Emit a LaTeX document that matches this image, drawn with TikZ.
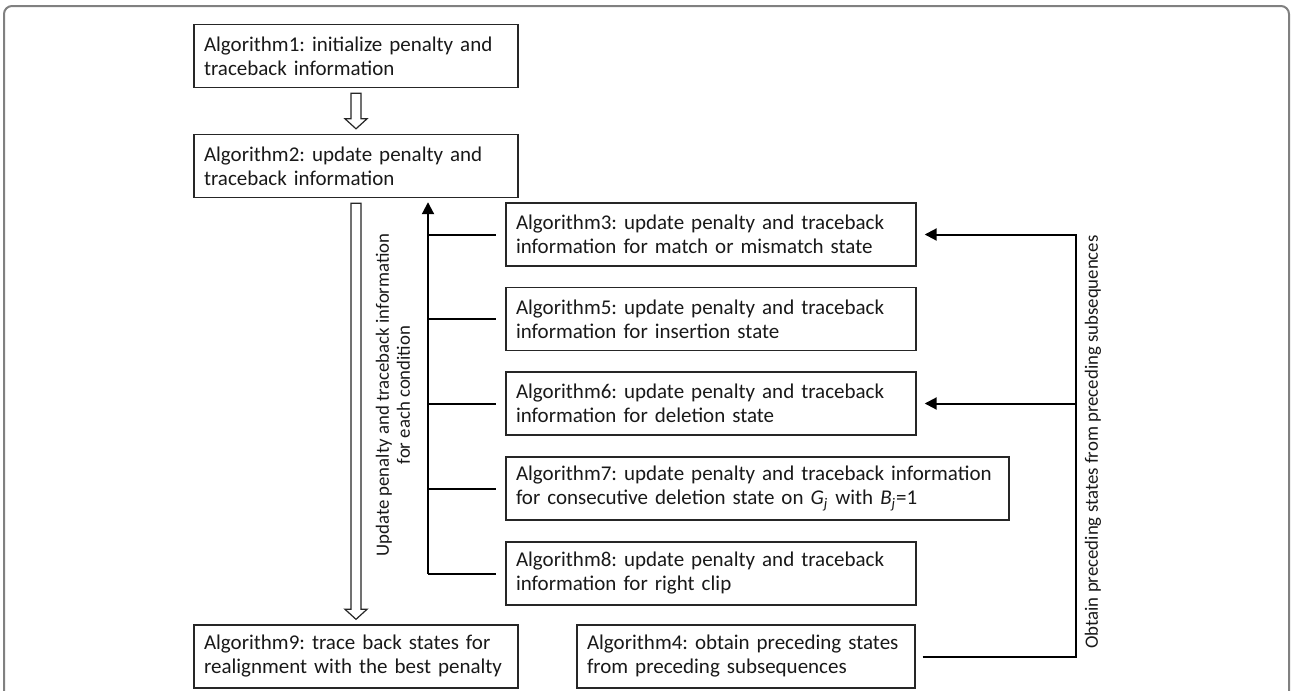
\documentclass[tikz,border=0pt]{standalone}
\usepackage{fontspec}
\setmainfont{Carlito}
\usetikzlibrary{arrows.meta,calc}
\frenchspacing

\tikzset{
  algbox/.style={draw=black!85, line width=0.7pt, rectangle, align=left, inner xsep=5pt,
    minimum height=31.5pt, font=\fontsize{10.5}{12}\selectfont, text=black!90},
  link/.style={draw=black, line width=1pt},
  tip/.style={-{Triangle[length=6pt,width=6pt]}},
  hollow/.style={draw=black!85, line width=0.6pt, fill=white},
  sidelabel/.style={rotate=90, align=center, font=\fontsize{9.4}{10.5}\selectfont, text=black!90},
}

% outline arrow between two stacked boxes
\newcommand{\hollowarrow}[2]{%
  \draw[hollow] ($(#1.south)+(-5,5)$) -- ($(#2.north)+(-5,-15)$) -- ($(#2.north)+(-11,-15)$)
    -- ($(#2.north)+(0,-5)$) -- ($(#2.north)+(11,-15)$) -- ($(#2.north)+(5,-15)$)
    -- ($(#1.south)+(5,5)$) -- cycle;}

\begin{document}
\begin{tikzpicture}[x=0.5pt,y=-0.5pt]
\useasboundingbox (0,0) rectangle (1291,691);
\clip (0,0) rectangle (1291,691);
\draw[black!50, line width=1pt, rounded corners=4pt] (4,6) rectangle (1289,720);

% left column
\node[algbox, text width=152pt] (alg1) at (356,56) {Algorithm1: initialize penalty and\\traceback information};
\node[algbox, text width=152pt] (alg2) at (356,166) {Algorithm2: update penalty and\\traceback information};
\node[algbox, text width=152pt] (alg9) at (356,656.5) {Algorithm9: trace back states for\\realignment with the best penalty};

% conditions
\node[algbox, text width=195pt] (alg3) at (711,234.5) {Algorithm3: update penalty and traceback\\information for match or mismatch state};
\node[algbox, text width=195pt] (alg5) at (711,319) {Algorithm5: update penalty and traceback\\information for insertion state};
\node[algbox, text width=195pt] (alg6) at (711,403.5) {Algorithm6: update penalty and traceback\\information for deletion state};
\node[algbox, text width=241.5pt] (alg7) at (757.5,488.5) {Algorithm7: update penalty and traceback information\\for consecutive deletion state on \textit{G\textsubscript{j}} with \textit{B\textsubscript{j}}=1};
\node[algbox, text width=195pt] (alg8) at (711,573.5) {Algorithm8: update penalty and traceback\\information for right clip};
\node[algbox, text width=159pt] (alg4) at (746,656.5) {Algorithm4: obtain preceding states\\from preceding subsequences};

\hollowarrow{alg1}{alg2}
\hollowarrow{alg2}{alg9}

% bus back to algorithm 2
\coordinate (trunk) at (428,0);
\draw[link, tip, shorten >=2pt] (trunk |- alg8.west) -- (trunk |- alg2.south);
\foreach \n in {alg3,alg5,alg6,alg7,alg8}
  \draw[link, shorten >=4.5pt] (trunk |- \n.west) -- (\n.west);

% preceding states
\coordinate (rail) at (1076,0);
\draw[link, tip, shorten <=3.5pt, shorten >=4pt] (alg4.east) -- (rail |- alg4.east) -- (rail |- alg3.east) -- (alg3.east);
\draw[link, tip, shorten >=4pt] (rail |- alg6.east) -- (alg6.east);

\node[sidelabel] (condlabel) at (393,395) {Update penalty and traceback information\\for each condition};
\node[sidelabel] (statelabel) at (1093,442) {Obtain preceding states from preceding subsequences};
\end{tikzpicture}
\end{document}
